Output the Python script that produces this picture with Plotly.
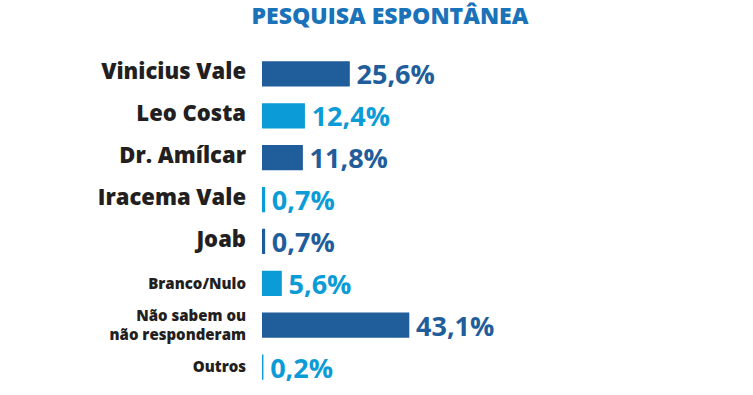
import plotly.graph_objects as go

categories = ["Vinicius Vale", "Leo Costa", "Dr. Amílcar", "Iracema Vale", "Joab",
              "Branco/Nulo", "Não sabem ou<br>não responderam", "Outros"]
values = [25.6, 12.4, 11.8, 0.7, 0.7, 5.6, 43.1, 0.2]
small_label = [False, False, False, False, False, True, True, True]

DARK = "#1f5d9b"
LIGHT = "#0b9bd7"
colors = [DARK, LIGHT, DARK, LIGHT, DARK, LIGHT, DARK, LIGHT]

texts = ["\u2009" + f"{v:.1f}".replace(".", ",") + "%" for v in values]
ticktext = [c if s else f'<span style="font-size:22px">{c}</span>'
            for c, s in zip(categories, small_label)]

W, H = 753, 395

fig = go.Figure(go.Bar(
    x=values, y=categories, orientation="h",
    marker=dict(color=colors, line=dict(color=colors, width=1.5)),
    width=0.57,
    text=texts, textposition="outside", constraintext="none", cliponaxis=False,
    textfont=dict(family="Open Sans", size=27, color=colors, weight=700),
    hoverinfo="skip",
))

fig.update_layout(
    width=W, height=H,
    margin=dict(l=262, r=W - 262 - 340, t=53, b=H - 388, autoexpand=False),
    paper_bgcolor="white", plot_bgcolor="white",
    showlegend=False,
    hovermode=False,
    title=dict(text="PESQUISA ESPONTÂNEA", x=390 / W, xanchor="center",
               y=1 - 16 / H, yanchor="middle", automargin=False,
               font=dict(family="Open Sans", size=23, color="#1a72b9", weight=800)),
    xaxis=dict(range=[0, 100], visible=False, fixedrange=True, automargin=False),
    yaxis=dict(type="category", categoryorder="array", categoryarray=categories,
               autorange="reversed", tickvals=categories, ticktext=ticktext,
               showgrid=False, zeroline=False, showline=False, ticks="",
               ticklabelstandoff=15, automargin=False, fixedrange=True,
               tickfont=dict(family="Open Sans", size=15, color="#231f20", weight=800)),
    font=dict(family="Open Sans"),
)

fig.write_html("out.html",
               config={"displayModeBar": False, "staticPlot": True},
               post_script="document.body.style.margin='0';document.body.style.padding='0';")
